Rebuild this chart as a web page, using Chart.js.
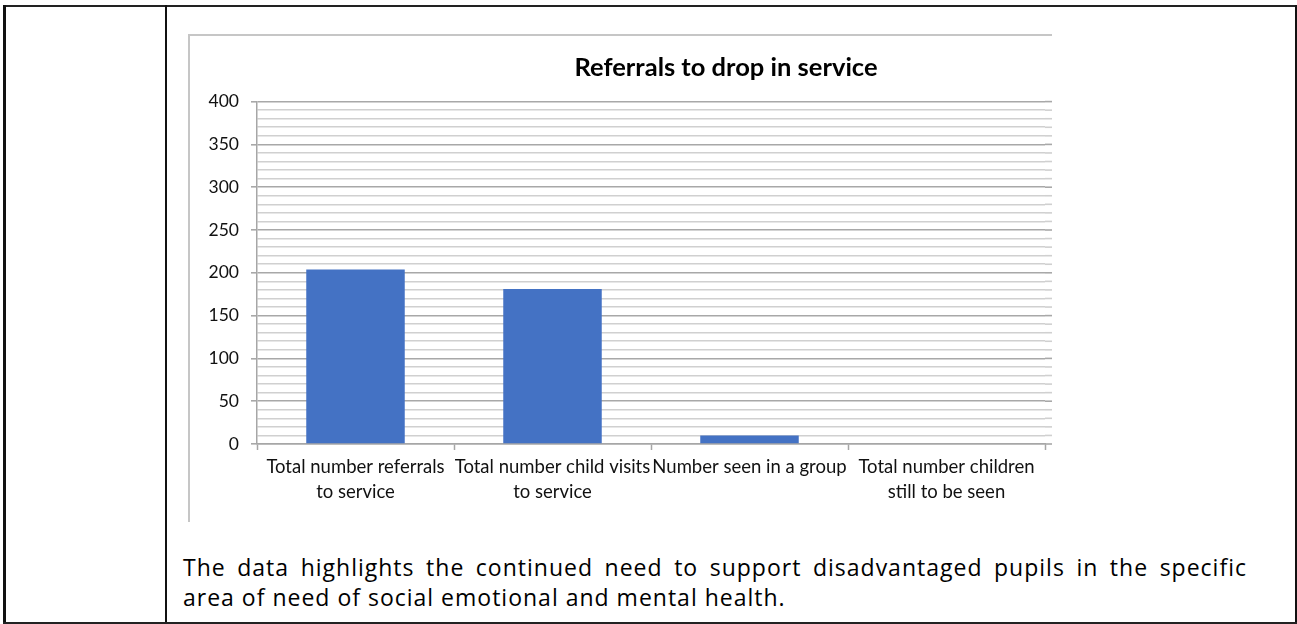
<!DOCTYPE html>
<html>
<head>
<meta charset="utf-8">
<script src="https://cdn.jsdelivr.net/npm/chart.js@4"></script>
<style>
  html, body { margin: 0; padding: 0; background: #fff; }
  body { width: 1297px; height: 624px; position: relative; overflow: hidden; }
  .rule { position: absolute; background: #111; }
  .frame { position: absolute; background: #c6c6c6; }
  #clip { position: absolute; left: 190px; top: 36px; width: 862px; height: 486px; overflow: hidden; }
  #holder { position: relative; width: 1072px; height: 486px; }
  #note {
    position: absolute; left: 183px; top: 552px; width: 1064px;
    font-family: "Open Sans", sans-serif; font-size: 23px; line-height: 30px;
    letter-spacing: 1px; color: #000; margin: 0;
  }
  #note span { display: block; white-space: nowrap; }
  #note .full { text-align: justify; text-align-last: justify; }
</style>
</head>
<body>
<!-- table cell borders -->
<div class="rule" style="left:3px; top:5px; width:1294px; height:2px; background:#222"></div>
<div class="rule" style="left:3px; top:5px; width:3px; height:619px"></div>
<div class="rule" style="left:165px; top:5px; width:2px; height:619px"></div>
<div class="rule" style="left:1295px; top:5px; width:2px; height:619px"></div>
<div class="rule" style="left:3px; top:622px; width:1294px; height:2px; background:#222"></div>

<!-- chart image frame (cut off on the right) -->
<div class="frame" style="left:188px; top:34px; width:864px; height:2px"></div>
<div class="frame" style="left:188px; top:34px; width:2px; height:488px"></div>

<div id="clip"><div id="holder"><canvas id="myChart"></canvas></div></div>

<p id="note"><span class="full">The data highlights the continued need to support disadvantaged pupils in the specific</span><span>area of need of social emotional and mental health.</span></p>

<script>
const categories = [
  ['Total number referrals', 'to service'],
  ['Total number child visits', 'to service'],
  ['Number seen in a group'],
  ['Total number children', 'still to be seen']
];
const referrals = [204, 181, 10, 0];
const yMin = 0;
const yMax = 400;
const yMajorStep = 50;
const yMinorStep = 10;

const isMajor = (c) => c.tick && c.tick.value % yMajorStep === 0;

// the horizontal gridlines run a little past the last category tick
const gridRunout = {
  id: 'gridRunout',
  beforeDatasetsDraw(chart) {
    const { ctx, chartArea, scales } = chart;
    const y = scales.y;
    ctx.save();
    ctx.lineWidth = 1.6;
    y.ticks.forEach((t) => {
      const py = y.getPixelForValue(t.value);
      ctx.strokeStyle = t.value % yMajorStep === 0 ? '#a8a8a8' : '#d0d0d0';
      ctx.beginPath();
      ctx.moveTo(chartArea.right, py);
      ctx.lineTo(chartArea.right + 8, py);
      ctx.stroke();
    });
    ctx.restore();
  }
};

const ctx = document.getElementById('myChart');

new Chart(ctx, {
  type: 'bar',
  data: {
    labels: categories,
    datasets: [{
      label: 'Referrals',
      data: referrals,
      backgroundColor: '#4472C4',
      borderWidth: 0,
      barPercentage: 0.5,
      categoryPercentage: 1
    }]
  },
  plugins: [gridRunout],
  options: {
    responsive: true,
    maintainAspectRatio: false,
    animation: false,
    plugins: {
      legend: { display: false },
      tooltip: { enabled: false },
      title: {
        display: true,
        text: 'Referrals to drop in service',
        color: '#000',
        font: { family: 'Lato', size: 25.5, weight: 'bold' },
        padding: { top: 16, bottom: 19 }
      }
    },
    scales: {
      x: {
        offset: true,
        grid: {
          offset: true,
          drawOnChartArea: false,
          tickLength: 6,
          tickColor: '#a6a6a6',
          tickWidth: 1.5
        },
        border: { color: '#a6a6a6', width: 1.5 },
        ticks: {
          color: '#111',
          font: { family: 'Lato', size: 18.5, lineHeight: 1.35 },
          maxRotation: 0,
          autoSkip: false,
          padding: 5
        },
        afterFit: (scale) => { scale.height = 78; }
      },
      y: {
        min: yMin,
        max: yMax,
        ticks: {
          stepSize: yMinorStep,
          autoSkip: false,
          color: '#111',
          font: { family: 'Lato', size: 17.5 },
          padding: 12,
          callback: (v) => (v % yMajorStep === 0 ? v : '')
        },
        grid: {
          color: (c) => (isMajor(c) ? '#a8a8a8' : '#d0d0d0'),
          lineWidth: 1.6,
          tickLength: 6,
          tickColor: (c) => (isMajor(c) ? '#a8a8a8' : 'rgba(0,0,0,0)')
        },
        border: { color: '#a6a6a6', width: 1.5 },
        afterFit: (scale) => { scale.width = 67; }
      },
      // empty right-hand strip of the chart box (the title stays centred on the whole box)
      spare: {
        position: 'right',
        min: yMin,
        max: yMax,
        grid: { display: false },
        border: { display: false },
        ticks: { display: false },
        afterFit: (scale) => { scale.width = 217; }
      }
    }
  }
});
</script>
</body>
</html>
